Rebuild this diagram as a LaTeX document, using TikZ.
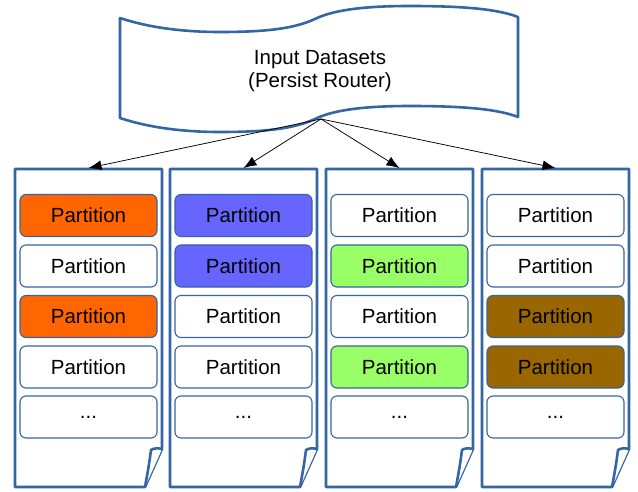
\documentclass[tikz,border=0pt]{standalone}
\usepackage{fontspec}
\setmainfont{Liberation Sans}
\usetikzlibrary{arrows.meta}
\definecolor{edgeblue}{HTML}{3465A4}
\definecolor{porange}{HTML}{FF6600}
\definecolor{pblue}{HTML}{6666FF}
\definecolor{pgreen}{HTML}{99FF66}
\definecolor{pbrown}{HTML}{996600}
\tikzset{
  outline/.style={draw=edgeblue, line width=2.6pt, line join=round, fill=white},
  part/.style={draw=edgeblue, line width=1.1pt, rounded corners=6pt, fill=white,
    minimum width=137pt, minimum height=42pt, inner sep=0pt,
    font=\fontsize{20.5}{23.5}\selectfont},
  link/.style={draw=black, line width=0.75pt, -{Latex[length=13pt,width=10pt]}},
}
\begin{document}
\begin{tikzpicture}[x=1pt,y=-1pt]
\useasboundingbox (0,0) rectangle (638,492);

% punched-tape source shape
\draw[outline]
  (120,18) .. controls (150,28) and (185,32) .. (220,32)
  .. controls (270,32) and (295,28) .. (315,19)
  .. controls (335,9) and (370,6) .. (410,6)
  .. controls (470,6) and (500,10) .. (518,17)
  -- (518,117)
  .. controls (500,110) and (470,106) .. (410,106)
  .. controls (370,106) and (335,109) .. (315,119)
  .. controls (295,128) and (270,132) .. (220,132)
  .. controls (185,132) and (150,128) .. (120,118)
  -- cycle;
\node[align=center, font=\fontsize{20.5}{23}\selectfont] (src) at (320,71)
  {Input Datasets\\(Persist Router)};
\coordinate (tap) at (321,119);

% document boxes with folded corner
\foreach \x/\n in {15/1,170/2,326/3,482/4}{
  \draw[outline] (\x,169) -- ({\x+147},169) -- ({\x+147},449) -- ({\x+130},487)
    -- (\x,487) -- cycle;
  \draw[outline] ({\x+147},449) .. controls ({\x+143},448) and ({\x+139},448) .. ({\x+136},450)
    .. controls ({\x+134},465) .. ({\x+130},487);
  \coordinate (top\n) at ({\x+73.5},168);
}

% partitions
\node[part, fill=porange] (p11) at (88.5,215.5) {Partition};
\node[part]               (p12) at (88.5,266)   {Partition};
\node[part, fill=porange] (p13) at (88.5,316.5) {Partition};
\node[part]               (p14) at (88.5,367)   {Partition};
\node[part]               (p15) at (88.5,417)   {...};

\node[part, fill=pblue]   (p21) at (243.5,215.5) {Partition};
\node[part, fill=pblue]   (p22) at (243.5,266)   {Partition};
\node[part]               (p23) at (243.5,316.5) {Partition};
\node[part]               (p24) at (243.5,367)   {Partition};
\node[part]               (p25) at (243.5,417)   {...};

\node[part]               (p31) at (399.5,215.5) {Partition};
\node[part, fill=pgreen]  (p32) at (399.5,266)   {Partition};
\node[part]               (p33) at (399.5,316.5) {Partition};
\node[part, fill=pgreen]  (p34) at (399.5,367)   {Partition};
\node[part]               (p35) at (399.5,417)   {...};

\node[part]               (p41) at (555.5,215.5) {Partition};
\node[part]               (p42) at (555.5,266)   {Partition};
\node[part, fill=pbrown]  (p43) at (555.5,316.5) {Partition};
\node[part, fill=pbrown]  (p44) at (555.5,367)   {Partition};
\node[part]               (p45) at (555.5,417)   {...};

% routing arrows
\foreach \n in {1,2,3,4}{
  \draw[link] (tap) -- (top\n);
}
\end{tikzpicture}
\end{document}
